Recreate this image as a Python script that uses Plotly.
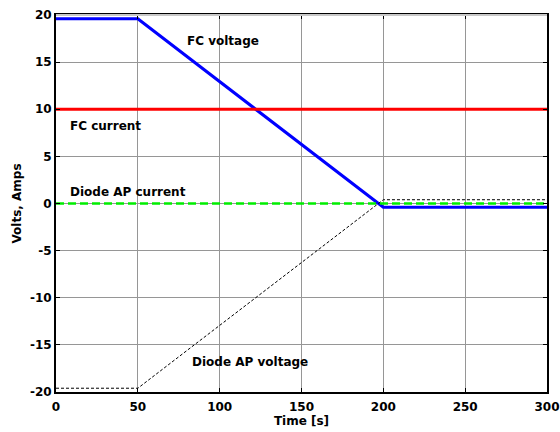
import plotly.graph_objects as go

# Data
time = [0, 50, 200, 300]
fc_voltage = [19.6, 19.6, -0.4, -0.4]
diode_ap_voltage = [-19.6, -19.6, 0.4, 0.4]
time_flat = [0, 300]
fc_current = [10, 10]
diode_ap_current = [0, 0]

x_ticks = [0, 50, 100, 150, 200, 250, 300]
y_ticks = [-20, -15, -10, -5, 0, 5, 10, 15, 20]

labels = [
    ("FC voltage", 79, 17.2),
    ("FC current", 7.3, 8.2),
    ("Diode AP current", 7.3, 1.2),
    ("Diode AP voltage", 82, -16.8),
]

FONT = "DejaVu Sans"

fig = go.Figure()
fig.add_trace(go.Scatter(x=time, y=fc_voltage, mode="lines",
                         line=dict(color="#0000ff", width=3.2), name="FC voltage"))
fig.add_trace(go.Scatter(x=time_flat, y=fc_current, mode="lines",
                         line=dict(color="#ff0000", width=3), name="FC current"))
fig.add_trace(go.Scatter(x=time, y=diode_ap_voltage, mode="lines",
                         line=dict(color="#000000", width=1, dash="3px,2px"), name="Diode AP voltage"))
fig.add_trace(go.Scatter(x=time_flat, y=diode_ap_current, mode="lines",
                         line=dict(color="#00ee00", width=2.5, dash="8px,4px"), name="Diode AP current"))

for text, x, y in labels:
    fig.add_annotation(x=x, y=y, text="<b>%s</b>" % text, showarrow=False,
                       xanchor="left", yanchor="middle",
                       font=dict(family=FONT, size=12, color="black"))

axis_common = dict(
    showgrid=True, gridcolor="rgb(150,150,150)", gridwidth=1,
    showline=True, linecolor="black", linewidth=2, mirror="ticks",
    ticks="inside", ticklen=4, tickcolor="black", tickwidth=1,
    zeroline=False, automargin=False,
    tickfont=dict(family=FONT, size=12, color="black"),
)

fig.update_xaxes(range=[0, 300], tickvals=x_ticks,
                 ticktext=["<b>%d</b>" % v for v in x_ticks],
                 title=dict(text="<b>Time [s]</b>", font=dict(family=FONT, size=12, color="black"),
                            standoff=0),
                 ticklabelstandoff=3,
                 **axis_common)
fig.update_yaxes(range=[-20, 20], tickvals=y_ticks,
                 ticktext=["<b>%d</b>" % v for v in y_ticks],
                 title=dict(text="<b>Volts, Amps</b>", font=dict(family=FONT, size=12, color="black"),
                            standoff=6),
                 ticklabelstandoff=0,
                 **axis_common)

# light top border like the reference
fig.add_shape(type="line", xref="paper", yref="paper", x0=0, x1=1, y0=1, y1=1,
              layer="above", line=dict(color="#c8c8c8", width=2))

fig.update_layout(
    width=560, height=432,
    margin=dict(l=56, r=13, t=15, b=40),
    paper_bgcolor="white", plot_bgcolor="white",
    showlegend=False,
    font=dict(family=FONT, color="black"),
)

fig.write_html("out.html", config={"displayModeBar": False},
               post_script="document.body.style.margin='0';document.body.style.padding='0';")
